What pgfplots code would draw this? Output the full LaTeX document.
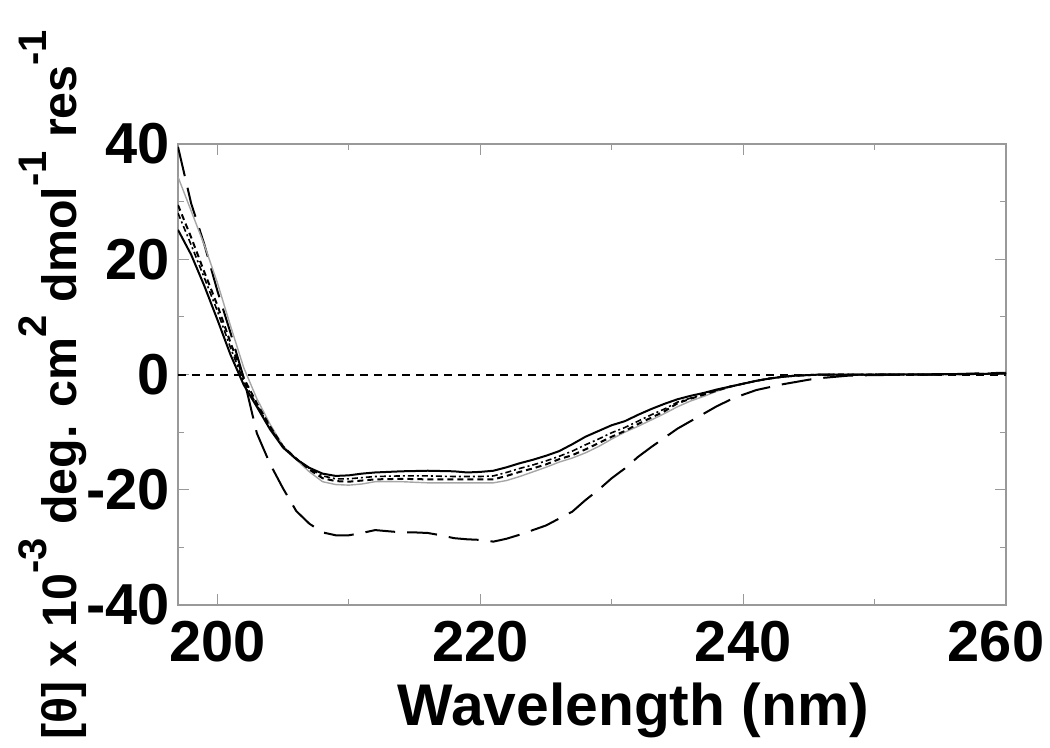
\documentclass[border=0pt]{standalone}
\usepackage{fontspec}
\setmainfont{Liberation Sans}
\usepackage{pgfplots}
\pgfplotsset{compat=1.18}
\newcommand\sps[1]{\raisebox{0.62em}{\fontsize{40}{40}\selectfont #1}}
\begin{document}
\begin{tikzpicture}
\path[use as bounding box] (-178bp,-143bp) rectangle (872bp,605bp);
\begin{axis}[
  name=ax,
  at={(0bp,0bp)}, anchor=south west,
  scale only axis,
  width=828bp, height=461bp,
  xmin=197, xmax=260, ymin=-40, ymax=40,
  xtick={200,220,240,260}, xticklabels={200,220,240,\hspace*{-20bp}260},
  ytick={-40,-20,0,20,40}, yticklabels={-40,-20,0,20,40},
  minor xtick={210,230,250}, minor ytick={-30,-10,10,30},
  tick align=inside,
  major tick length=11bp, minor tick length=6bp,
  every tick/.style={draw=gray!80, line width=1.2bp},
  axis line style={draw=gray!80, line width=1.5bp},
  /pgf/number format/assume math mode=true,
  ticklabel style={font=\fontsize{58}{58}\selectfont\bfseries},
  xticklabel style={inner sep=0pt, anchor=north, yshift=-16bp},
  yticklabel style={inner sep=0pt, anchor=east, xshift=-8bp},
  xlabel={Wavelength (nm)},
  xlabel style={font=\fontsize{59}{59}\selectfont\bfseries, inner sep=0pt,
    at={(axis description cs:0.55,-0.168)}, anchor=north},
  ylabel={[θ] x 10\sps{-3} deg. cm\sps{2} dmol\sps{-1} res\sps{-1}},
  ylabel style={font=\fontsize{48.5}{48.5}\selectfont\bfseries, inner sep=0pt,
    at={(axis description cs:-0.11,0.478)}, anchor=south, rotate=0},
  clip=true,
]
% zero reference line
\addplot[black, line width=2bp, dash pattern=on 8bp off 6bp] coordinates {(197,0) (260,0)};
% long dashed
\addplot[black, line width=2bp, dash pattern=on 30bp off 12bp] coordinates {
(197,39.5)(198,29.7)(199,22.6)(200,14.5)(201,7.2)(202,-0.6)(203,-10.2)(204,-15.5)
(205,-19.8)(206,-23.7)(207,-25.9)(208,-27.4)(209,-27.9)(210,-27.9)(211,-27.5)(212,-27.0)
(213,-27.2)(214,-27.4)(215,-27.4)(216,-27.5)(217,-27.9)(218,-28.4)(219,-28.6)(220,-28.7)
(221,-29.0)(222,-28.5)(223,-27.8)(224,-27.0)(225,-26.2)(226,-25.0)(227,-23.8)(228,-21.8)
(229,-20.0)(230,-18.0)(231,-16.3)(232,-14.3)(233,-12.6)(234,-11.0)(235,-9.4)(236,-8.1)
(237,-6.8)(238,-5.5)(239,-4.4)(240,-3.5)(241,-2.7)(242,-2.2)(243,-1.7)(244,-1.3)
(245,-0.9)(246,-0.6)(247,-0.4)(248,-0.2)(250,-0.1)(255,0)(258,0.2)(260,0.3)};
% gray solid
\addplot[gray!70, line width=1.4bp] coordinates {
(197,34.3)(198,28.4)(199,22.5)(200,15.9)(201,8.4)(202,1.2)(203,-4.2)(204,-8.6)
(205,-12.4)(206,-14.8)(207,-16.9)(208,-18.6)(209,-19.1)(210,-19.2)(211,-19.0)(212,-18.6)
(214,-18.6)(216,-18.8)(218,-18.8)(220,-18.8)(221,-18.8)(222,-18.4)(223,-17.7)(224,-16.9)
(225,-16.1)(226,-15.2)(227,-14.5)(228,-13.6)(229,-12.5)(230,-11.2)(231,-10.0)(232,-9.0)
(233,-7.9)(234,-6.8)(235,-5.6)(236,-4.6)(237,-3.8)(238,-2.9)(239,-2.2)(240,-1.6)
(241,-1.1)(242,-0.7)(243,-0.4)(244,-0.2)(246,0)(250,0)(255,0)(258,0.1)(260,0.2)};
% short dashed
\addplot[black, line width=2bp, dash pattern=on 6bp off 4bp] coordinates {
(197,29.4)(198,23.8)(199,17.8)(200,12.0)(201,5.5)(202,-0.6)(203,-5.0)(204,-9.0)
(205,-12.5)(206,-14.6)(207,-16.5)(208,-18.0)(209,-18.5)(210,-18.6)(211,-18.4)(212,-18.2)
(214,-18.1)(216,-18.2)(218,-18.2)(220,-18.2)(221,-18.2)(222,-17.6)(223,-16.9)(224,-16.3)
(225,-15.6)(226,-14.7)(227,-14.0)(228,-13.0)(229,-11.9)(230,-10.8)(231,-9.8)(232,-8.6)
(233,-7.5)(234,-6.4)(235,-5.0)(236,-4.2)(237,-3.5)(238,-2.8)(239,-2.1)(240,-1.6)
(241,-1.1)(242,-0.7)(243,-0.4)(244,-0.2)(246,0)(250,0)(255,0)(258,0.1)(260,0.2)};
% dash-dot
\addplot[black, line width=1.6bp, dash pattern=on 6bp off 3bp on 2bp off 3bp] coordinates {
(197,28.0)(198,22.5)(199,16.8)(200,11.0)(201,4.6)(202,-1.2)(203,-5.3)(204,-9.2)
(205,-12.6)(206,-14.6)(207,-16.3)(208,-17.6)(209,-18.1)(210,-18.1)(211,-17.9)(212,-17.7)
(214,-17.6)(216,-17.6)(218,-17.7)(220,-17.7)(221,-17.6)(222,-17.0)(223,-16.3)(224,-15.7)
(225,-15.0)(226,-14.2)(227,-13.3)(228,-12.2)(229,-11.2)(230,-10.1)(231,-9.2)(232,-8.1)
(233,-7.0)(234,-6.0)(235,-4.8)(236,-4.1)(237,-3.4)(238,-2.7)(239,-2.1)(240,-1.6)
(241,-1.1)(242,-0.7)(243,-0.4)(244,-0.2)(246,0)(250,0)(255,0)(258,0.1)(260,0.2)};
% solid black
\addplot[black, line width=2bp] coordinates {
(197,25.1)(198,20.8)(199,15.4)(200,9.5)(201,3.4)(202,-1.8)(203,-5.6)(204,-9.5)
(205,-12.7)(206,-14.7)(207,-16.2)(208,-17.2)(209,-17.6)(210,-17.5)(211,-17.2)(212,-17.0)
(214,-16.8)(216,-16.7)(218,-16.8)(219,-17.0)(220,-16.9)(221,-16.7)(222,-16.1)(223,-15.4)
(224,-14.8)(225,-14.1)(226,-13.3)(227,-12.1)(228,-10.8)(229,-9.8)(230,-8.8)(231,-8.1)
(232,-7.0)(233,-6.0)(234,-5.1)(235,-4.3)(236,-3.7)(237,-3.2)(238,-2.6)(239,-2.1)
(240,-1.6)(241,-1.1)(242,-0.7)(243,-0.4)(244,-0.2)(246,0)(250,0)(255,0.05)(258,0.1)(260,0.2)};
\end{axis}
\end{tikzpicture}
\end{document}
